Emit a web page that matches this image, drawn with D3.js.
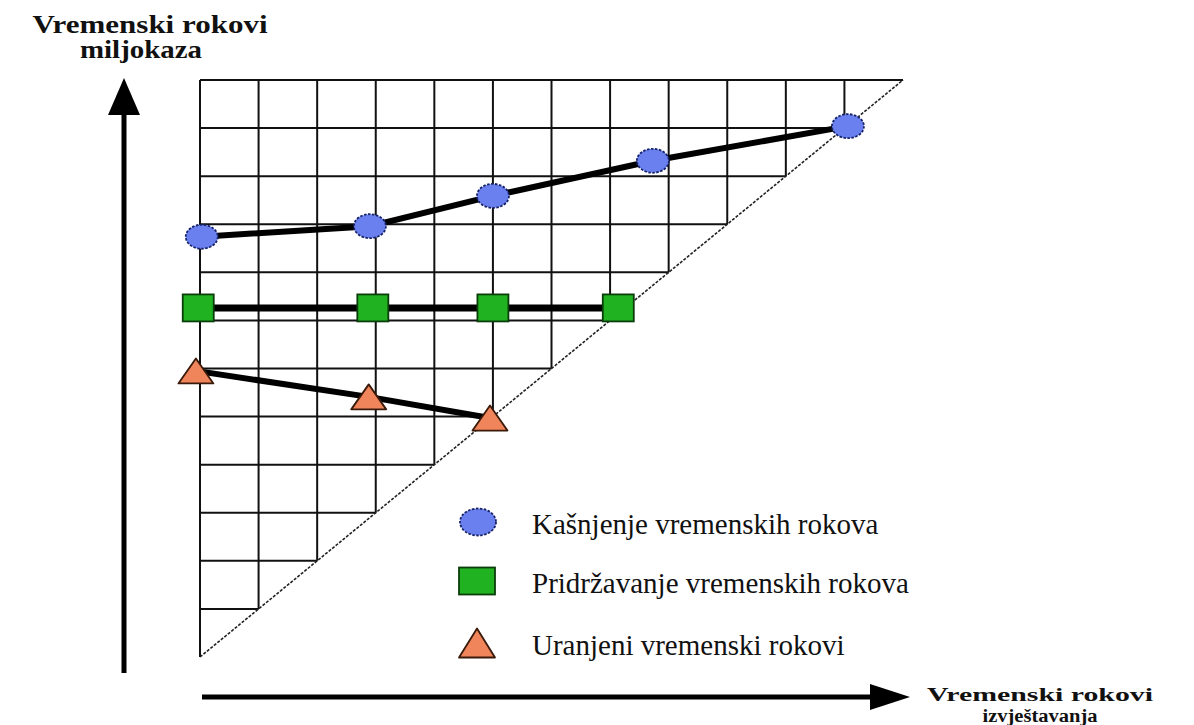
<!DOCTYPE html>
<html>
<head>
<meta charset="utf-8">
<script src="https://cdn.jsdelivr.net/npm/d3@7"></script>
<style>
  body { margin: 0; background: #fff; }
  svg { display: block; }
</style>
</head>
<body>
<svg id="chart" width="1194" height="725"></svg>
<script>
// grid size (reporting periods x milestone periods)
const gridCells = 12

// series, in grid units (x = reporting period, y = milestone period)
const lateX = [0.03, 2.9, 5.0, 7.73, 11.06]
const lateY = [8.74, 8.96, 9.59, 10.32, 11.04]
const onTimeX = [-0.03, 2.95, 5.0, 7.14]
const onTimeY = [7.26, 7.26, 7.26, 7.26]
const earlyX = [-0.07, 2.88, 4.95]
const earlyY = [5.95, 5.41, 4.97]

const legendLabels = ['Kašnjenje vremenskih rokova', 'Pridržavanje vremenskih rokova', 'Uranjeni vremenski rokovi']
const yAxisLabel = ['Vremenski rokovi', 'miljokaza']
const xAxisLabel = ['Vremenski rokovi', 'izvještavanja']

const serif = '"Liberation Serif", "Times New Roman", Times, serif'
const svg = d3.select('#chart')

const x = d3.scaleLinear().domain([0, gridCells]).range([200, 903])
const y = d3.scaleLinear().domain([0, gridCells]).range([657, 80])

// grid (upper-left triangle)
const grid = svg.append('g').attr('stroke', '#111').attr('stroke-width', 2)
d3.range(0, gridCells).forEach(i => {
  grid.append('line')
    .attr('x1', x(i)).attr('x2', x(i))
    .attr('y1', y(gridCells)).attr('y2', y(i))
})
d3.range(1, gridCells + 1).forEach(j => {
  grid.append('line')
    .attr('x1', x(0)).attr('x2', x(j))
    .attr('y1', y(j)).attr('y2', y(j))
})

// diagonal
svg.append('line')
  .attr('x1', x(0)).attr('y1', y(0))
  .attr('x2', x(gridCells)).attr('y2', y(gridCells))
  .attr('stroke', '#222')
  .attr('stroke-width', 1.6)
  .attr('stroke-dasharray', '3,1.5')

// axis arrows
svg.append('line')
  .attr('x1', 124).attr('x2', 124).attr('y1', 112).attr('y2', 673)
  .attr('stroke', '#000').attr('stroke-width', 5)
svg.append('path')
  .attr('d', 'M124,78 L140,115 L108,115 Z')
  .attr('fill', '#000')
svg.append('line')
  .attr('x1', 202).attr('x2', 874).attr('y1', 697).attr('y2', 697)
  .attr('stroke', '#000').attr('stroke-width', 5)
svg.append('path')
  .attr('d', 'M910,697 L870,684 L870,710 Z')
  .attr('fill', '#000')

// axis labels
const label = (t, cx, by, size, len) => svg.append('text')
  .attr('x', cx).attr('y', by)
  .attr('text-anchor', 'middle')
  .attr('font-family', serif).attr('font-weight', 'bold').attr('font-size', size)
  .attr('textLength', len).attr('lengthAdjust', 'spacingAndGlyphs')
  .attr('fill', '#111')
  .text(t)
label(yAxisLabel[0], 150, 33, 25, 235)
label(yAxisLabel[1], 141, 58, 25, 122)
label(xAxisLabel[0], 1040, 701, 19, 226)
label(xAxisLabel[1], 1040, 722, 18, 115)

// series lines
const line = d3.line().x(d => x(d[0])).y(d => y(d[1]))
const late = d3.zip(lateX, lateY)
const onTime = d3.zip(onTimeX, onTimeY)
const early = d3.zip(earlyX, earlyY)

;[late, onTime, early].forEach((s, k) => {
  svg.append('path')
    .datum(s)
    .attr('d', line)
    .attr('fill', 'none')
    .attr('stroke', '#000')
    .attr('stroke-width', k === 1 ? 7 : 6)
})

// markers
const drawCircle = (g, cx, cy, rx, ry) => g.append('ellipse')
  .attr('cx', cx).attr('cy', cy).attr('rx', rx).attr('ry', ry)
  .attr('fill', '#6a80ef').attr('stroke', '#16236b')
  .attr('stroke-width', 1.8).attr('stroke-dasharray', '2.5,1.5')
const drawSquare = (g, cx, cy, w, h) => g.append('rect')
  .attr('x', cx - w / 2).attr('y', cy - h / 2).attr('width', w).attr('height', h)
  .attr('fill', '#21b221').attr('stroke', '#0b3d0b').attr('stroke-width', 1.8)
const drawTriangle = (g, cx, cy, w, h) => g.append('path')
  .attr('d', `M${cx},${cy - h / 2} L${cx + w / 2},${cy + h / 2} L${cx - w / 2},${cy + h / 2} Z`)
  .attr('fill', '#f0845a').attr('stroke', '#3a1a0a').attr('stroke-width', 1.8)
  .attr('stroke-linejoin', 'round')

const marks = svg.append('g')
late.forEach(d => drawCircle(marks, x(d[0]), y(d[1]), 16, 12))
onTime.forEach(d => drawSquare(marks, x(d[0]), y(d[1]), 31, 27))
early.forEach(d => drawTriangle(marks, x(d[0]), y(d[1]), 35, 25))

// legend
const legend = svg.append('g')
const legendY = [522, 581, 643]
drawCircle(legend, 478, legendY[0], 18, 13.5)
drawSquare(legend, 477, legendY[1], 36, 27)
drawTriangle(legend, 477, legendY[2], 36, 29)
legendLabels.forEach((t, i) => {
  legend.append('text')
    .attr('x', 532).attr('y', legendY[i] + 12)
    .attr('font-family', serif)
    .attr('font-size', 29)
    .attr('fill', '#111')
    .text(t)
})
</script>
</body>
</html>
